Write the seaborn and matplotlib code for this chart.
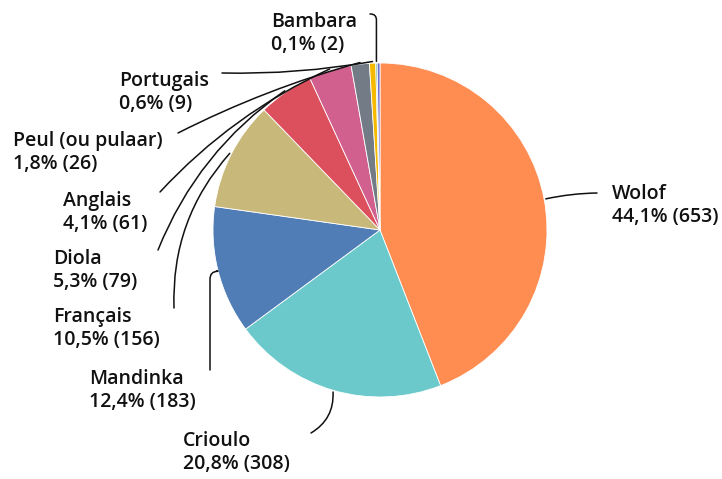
import numpy as np
import matplotlib
matplotlib.use("Agg")
import matplotlib.pyplot as plt
import seaborn as sns

sns.set_theme(style="white")
plt.rcParams['font.family'] = ['Open Sans', 'DejaVu Sans']

langues = ["Wolof", "Crioulo", "Mandinka", "Français", "Diola", "Anglais",
           "Peul (ou pulaar)", "Portugais", "Bambara", ""]
effectifs = [653, 308, 183, 156, 79, 61, 26, 9, 2, 4]
couleurs = ["#FF8C50", "#6BC9CB", "#507DB6", "#C8B87A", "#DC4F5C", "#D1608F",
            "#737C86", "#F5BA00", "#3DAA5E", "#6B6FD0"]

# label placement (pixel coords: text top-left, leader end, connection style)
labels_pos = {
    "Wolof": ((612, 180), (597, 193), "arc3,rad=0.05"),
    "Crioulo": ((183, 427), (311, 433), "arc3,rad=0.3"),
    "Mandinka": ((89, 365), (210, 370), "angle,angleA=90,angleB=0,rad=8"),
    "Français": ((53, 303), (174, 308), "arc3,rad=-0.2"),
    "Diola": ((53, 245), (158, 250), "arc3,rad=-0.15"),
    "Anglais": ((63, 187), (160, 192), "arc3,rad=-0.1"),
    "Peul (ou pulaar)": ((13, 127), (178, 133), "arc3,rad=-0.05"),
    "Portugais": ((119, 67), (222, 73), "arc3,rad=0.05"),
    "Bambara": ((271, 8), (370, 14), "angle,angleA=0,angleB=90,rad=6"),
}

W, H = 722, 479
cx, cy, R = 380, 230, 167

fig = plt.figure(figsize=(7.22, 4.79), dpi=100)
ax = fig.add_axes([0, 0, 1, 1])
ax.pie(effectifs, colors=couleurs, startangle=90, counterclock=False,
       center=(cx, H - cy), radius=R,
       wedgeprops=dict(linewidth=0.6, edgecolor="white"))
ax.set_xlim(0, W)
ax.set_ylim(0, H)
ax.set_aspect("equal")
ax.axis("off")

total = sum(effectifs)
cum = np.cumsum([0] + effectifs)
for i, nom in enumerate(langues):
    if nom == "":
        continue
    mid = (cum[i] + cum[i + 1]) / 2 / total * 360
    ang = np.deg2rad(90 - mid)
    px = cx + R * 1.01 * np.cos(ang)
    py = (H - cy) + R * 1.01 * np.sin(ang)
    (tx, ty), (ex, ey), cs = labels_pos[nom]
    pct = f"{effectifs[i] / total * 100:.1f}".replace(".", ",")
    ax.text(tx, H - ty - 4, f"{nom}\n{pct}% ({effectifs[i]})", ha="left", va="top",
            fontsize=14, fontweight="semibold", color="#111111", linespacing=1.2)
    ax.annotate("", xy=(px, py), xytext=(ex, H - ey),
                arrowprops=dict(arrowstyle="-", color="#111111", lw=1.1,
                                shrinkA=0, shrinkB=0, connectionstyle=cs))

fig.savefig("out.png", dpi=100)
